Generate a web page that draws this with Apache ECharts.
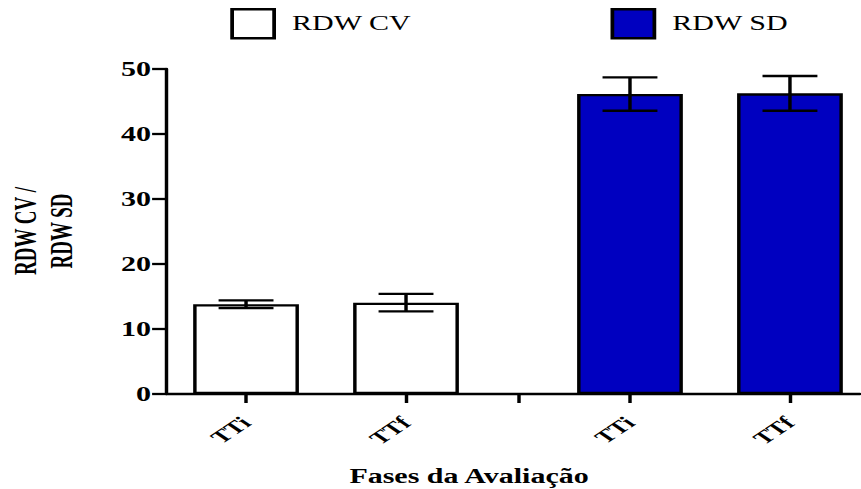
<!DOCTYPE html>
<html>
<head>
<meta charset="utf-8">
<script src="https://cdn.jsdelivr.net/npm/echarts@6/dist/echarts.min.js"></script>
<style>
  html, body { margin: 0; padding: 0; background: #fff; overflow: hidden; }
  /* The chart is laid out narrow and stretched sideways, giving the wide lettering of the figure */
  #main { width: 574px; height: 489px; transform: scaleX(1.5); transform-origin: 0 0; }
</style>
</head>
<body>
<div id="main"></div>
<script>
// ---- data ----
const phases = ['TTi', 'TTf'];
const seriesNames = ['RDW CV', 'RDW SD'];
const cvMean = [13.8, 14.05];
const cvErr = [0.6, 1.35];
const sdMean = [46.15, 46.25];
const sdErr = [2.57, 2.67];
const yTicks = [0, 10, 20, 30, 40, 50];
const xTitle = 'Fases da Avaliação';
const yTitle = 'RDW CV /\nRDW SD';

// ---- layout (x slots along the value axis) ----
const groupSlots = [[5, 15], [29, 39]];
const dividerSlot = 22;
const axisSpan = 43.375;

const FONT = "'Liberation Serif', 'Times New Roman', serif";
const LW = 2.3;
const colors = ['#ffffff', '#0000c0'];

const slotLabel = {};
groupSlots.forEach(g => g.forEach((s, i) => { slotLabel[s] = phases[i]; }));
const tickSlots = [groupSlots[0][0], groupSlots[0][1], dividerSlot, groupSlots[1][0], groupSlots[1][1]];
const labelSlots = [].concat(groupSlots[0], groupSlots[1]);

const means = [cvMean, sdMean];
const errs = [cvErr, sdErr];

const barSeries = seriesNames.map((name, k) => ({
  name: name,
  type: 'bar',
  barWidth: 70.5,
  barGap: '-100%',
  data: means[k].map((v, i) => [groupSlots[k][i], v]),
  itemStyle: { color: colors[k], borderColor: '#000', borderWidth: LW },
  emphasis: { disabled: true },
  z: 2
}));

const errSeries = seriesNames.map((name, k) => ({
  type: 'custom',
  name: name + ' err',
  data: means[k].map((v, i) => [groupSlots[k][i], v, errs[k][i]]),
  renderItem: function (params, api) {
    const x = api.value(0), m = api.value(1), e = api.value(2);
    const top = api.coord([x, m + e]);
    const bot = api.coord([x, m - e]);
    const half = 18.3;
    const st = { stroke: '#000', lineWidth: LW };
    return {
      type: 'group',
      children: [
        { type: 'line', shape: { x1: top[0], y1: top[1], x2: bot[0], y2: bot[1] }, style: st },
        { type: 'line', shape: { x1: top[0] - half, y1: top[1], x2: top[0] + half, y2: top[1] }, style: st },
        { type: 'line', shape: { x1: bot[0] - half, y1: bot[1], x2: bot[0] + half, y2: bot[1] }, style: st }
      ]
    };
  },
  z: 5,
  silent: true
}));

const legendBase = {
  orient: 'horizontal',
  top: 8,
  padding: 0,
  icon: 'rect',
  itemWidth: 28,
  itemHeight: 29,
  itemStyle: { borderColor: '#000', borderWidth: 2.5 },
  textStyle: { fontFamily: FONT, fontSize: 20, color: '#000', padding: [0, 0, 0, 7] },
  selectedMode: false
};

const chart = echarts.init(document.getElementById('main'), null, { renderer: 'svg' });
chart.setOption({
  animation: false,
  backgroundColor: '#fff',
  grid: { left: 110.7, right: 0.7, top: 69, bottom: 95 },
  legend: [
    Object.assign({}, legendBase, { data: [seriesNames[0]], left: 153.5 }),
    Object.assign({}, legendBase, { data: [seriesNames[1]], left: 407 })
  ],
  xAxis: {
    type: 'value',
    min: 0,
    max: axisSpan,
    splitLine: { show: false },
    axisLine: { show: true, lineStyle: { color: '#000', width: LW } },
    axisTick: { show: true, length: 9, lineStyle: { color: '#000', width: LW }, customValues: tickSlots },
    axisLabel: {
      customValues: labelSlots,
      rotate: 45,
      margin: 26,
      fontFamily: FONT,
      fontWeight: 'bold',
      fontSize: 18,
      color: '#000',
      formatter: v => slotLabel[v] || ''
    }
  },
  yAxis: {
    type: 'value',
    min: yTicks[0],
    max: yTicks[yTicks.length - 1],
    interval: 10,
    splitLine: { show: false },
    axisLine: { show: true, lineStyle: { color: '#000', width: LW } },
    axisTick: { show: true, length: 9.3, lineStyle: { color: '#000', width: LW } },
    axisLabel: { margin: 10, fontFamily: FONT, fontWeight: 'bold', fontSize: 20, color: '#000' }
  },
  graphic: [
    {
      type: 'text', x: 312.7, y: 476,
      style: { text: xTitle, font: 'bold 20px ' + FONT, fill: '#000', align: 'center', verticalAlign: 'middle' }
    },
    {
      type: 'text', x: 29.3, y: 231, rotation: Math.PI / 2, scaleY: 1.1,
      style: { text: yTitle, font: 'bold 19px ' + FONT, fill: '#000', align: 'center', verticalAlign: 'middle', lineHeight: 22 }
    }
  ],
  series: barSeries.concat(errSeries)
});
</script>
</body>
</html>
